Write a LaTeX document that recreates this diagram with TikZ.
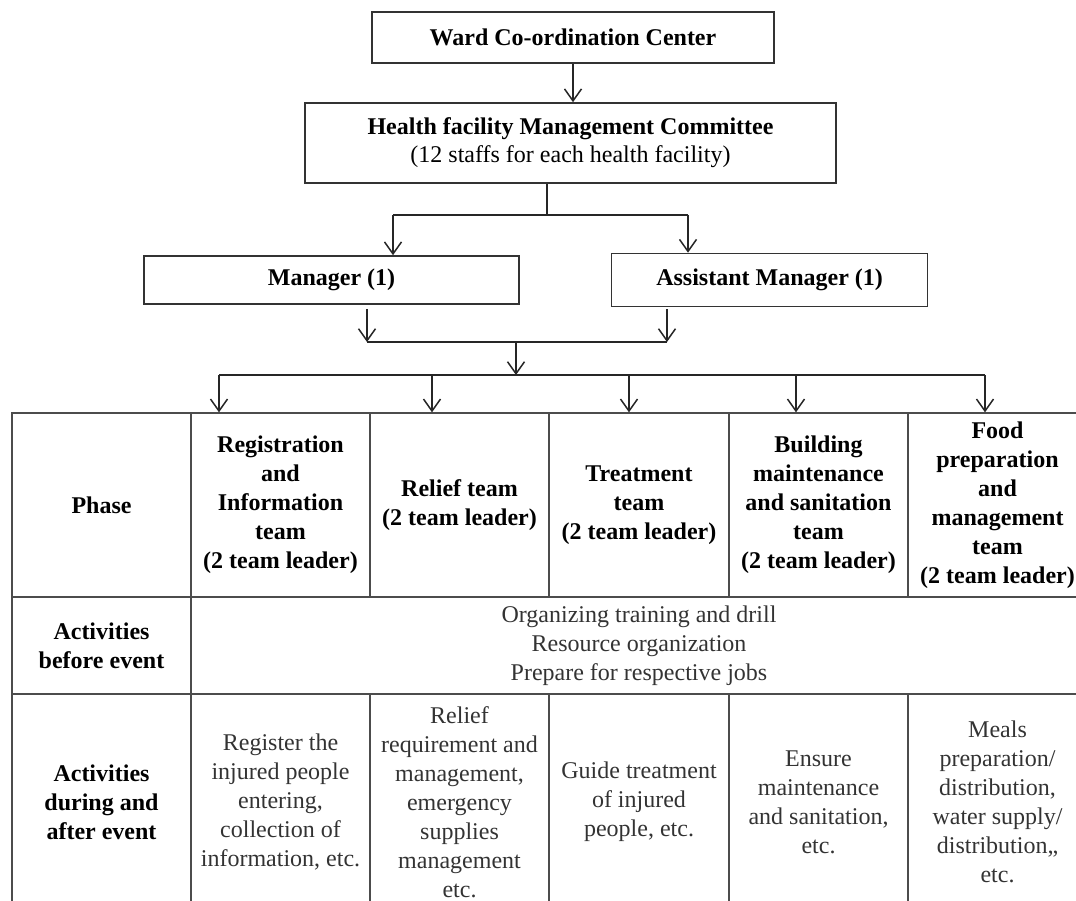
\documentclass[tikz,border=0pt]{standalone}
\usepackage{fontspec}
\setmainfont{Liberation Serif}
\usetikzlibrary{arrows.meta,positioning}

\begin{document}
\begin{tikzpicture}[
    x=1pt, y=-1pt,
    box/.style={rectangle, draw=black!80, line width=1.6pt, inner sep=0pt, align=center, font=\fontsize{24}{28}\selectfont\bfseries},
    cell/.style={rectangle, draw=black!70, line width=1.3pt, inner sep=0pt, minimum width=179pt, align=center, text=black!80, font=\fontsize{24}{29}\selectfont},
    head/.style={cell, text=black, font=\fontsize{24}{29}\selectfont\bfseries},
    arrow/.style={-{Straight Barb[length=12pt, width=17pt]}, line width=1.5pt, black!85},
    link/.style={line width=1.5pt, black!85},
]
\useasboundingbox (0,0) rectangle (1076,901);
\clip (0,0) rectangle (1076,901);

% Command chain
\node[box, minimum width=402pt, minimum height=51pt] (ward) at (573,37.5) {Ward Co-ordination Center};
\node[box, minimum width=531pt, minimum height=80pt] (hfmc) at (570.5,143) {Health facility Management Committee\\{\mdseries (12 staffs for each health facility)}};
\node[box, minimum width=375pt, minimum height=48pt] (mgr) at (331.5,280) {Manager (1)};
\node[box, minimum width=316pt, minimum height=53pt, right=91pt of mgr] (amgr) {Assistant Manager (1)};

% Junctions
\coordinate (split) at (547,215);
\coordinate (toM) at (393,215);
\coordinate (toA) at (688,215);
\coordinate (fromM) at (367,342);
\coordinate (fromA) at (667,342);
\coordinate (merge) at (516,342);
\coordinate (bar) at (516,375);
\coordinate (barL) at (219,375);
\coordinate (barR) at (985,375);

% Arrows in the chain
\draw[arrow] (ward) -- (ward.south |- hfmc.north);
\draw[link] (split |- hfmc.south) -- (split);
\draw[link] (toM) -- (toA);
\draw[arrow] (toM) -- (toM |- mgr.north);
\draw[arrow] (toA) -- (toA |- amgr.north);
\draw[arrow, shorten <=4pt] (mgr.south -| fromM) -- (fromM);
\draw[arrow, shorten <=2pt] (amgr.south -| fromA) -- (fromA);
\draw[link] (fromM) -- (fromA);
\draw[arrow] (merge) -- (bar);
\draw[link] (barL) -- (barR);

% Table: phase row
\node[head, minimum height=184pt] (phase) at (101.5,505) {Phase};
\node[head, minimum height=184pt] (reg) at (280.5,505) {Registration\\and\\Information\\team\\(2 team leader)};
\node[head, minimum height=184pt] (rel) at (459.5,505) {Relief team\\(2 team leader)};
\node[head, minimum height=184pt, minimum width=180pt] (trt) at (639,505) {Treatment\\team\\(2 team leader)};
\node[head, minimum height=184pt] (bld) at (818.5,505) {Building\\maintenance\\and sanitation\\team\\(2 team leader)};
\node[head, minimum height=184pt] (food) at (997.5,505) {Food\\preparation\\and\\management\\team\\(2 team leader)};

% Arrows to teams
\foreach \x/\c in {219/reg, 432/rel, 629/trt, 796/bld, 985/food} {
    \coordinate (d\c) at (\x,375);
    \draw[arrow] (d\c) -- (d\c |- \c.north);
}

% Table: before event
\node[head, minimum height=97pt] (before) at (101.5,645.5) {Activities\\before event};
\node[cell, minimum height=97pt, minimum width=896pt] (prep) at (639,645.5) {Organizing training and drill\\Resource organization\\Prepare for respective jobs};

% Table: during and after event
\node[head, minimum height=216pt] (during) at (101.5,802) {Activities\\during and\\after event};
\node[cell, minimum height=216pt] (regjob) at (280.5,802) {Register the\\injured people\\entering,\\collection of\\information, etc.};
\node[cell, minimum height=216pt] (reljob) at (459.5,802) {Relief\\requirement and\\management,\\emergency\\supplies\\management\\etc.};
\node[cell, minimum height=216pt, minimum width=180pt] (trtjob) at (639,802) {Guide treatment\\of injured\\people, etc.};
\node[cell, minimum height=216pt] (bldjob) at (818.5,802) {Ensure\\maintenance\\and sanitation,\\etc.};
\node[cell, minimum height=216pt] (foodjob) at (997.5,802) {Meals\\preparation/\\distribution,\\water supply/\\distribution,,\\etc.};

\end{tikzpicture}
\end{document}
